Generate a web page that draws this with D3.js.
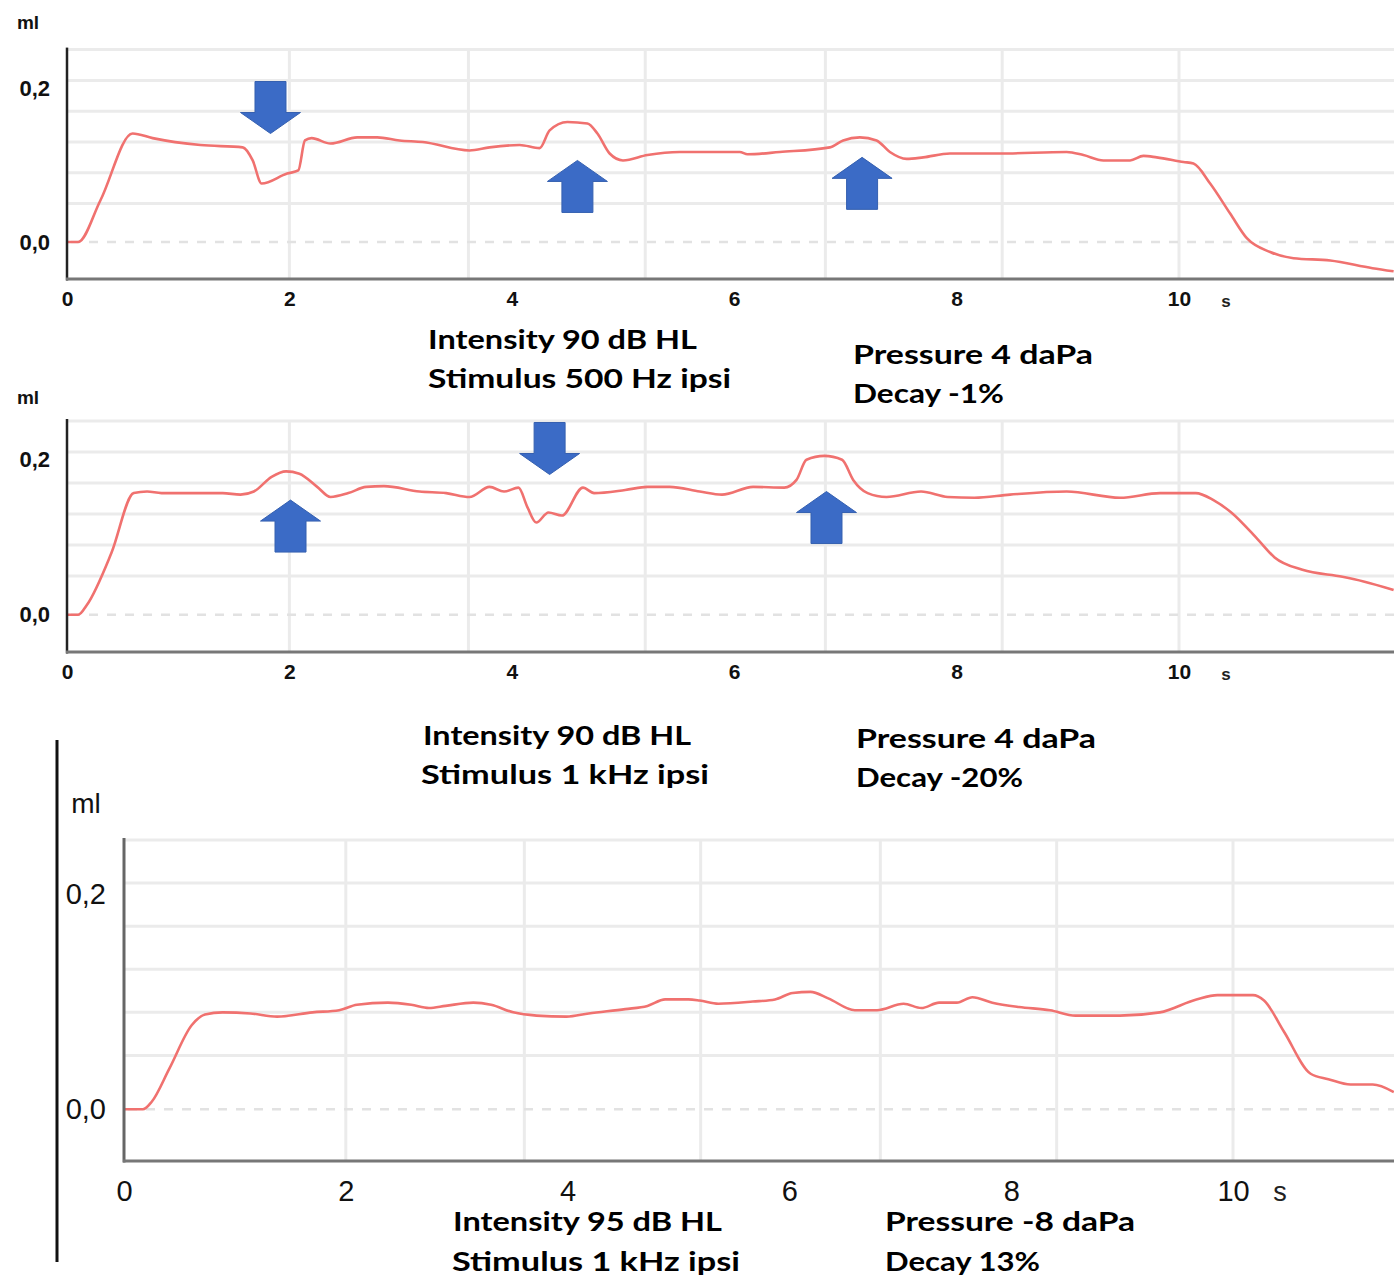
<!DOCTYPE html>
<html>
<head>
<meta charset="utf-8">
<script src="https://cdn.jsdelivr.net/npm/d3@7"></script>
<style>
  body { margin: 0; background: #fff; }
  svg { display: block; }
</style>
</head>
<body>
<script>
// Acoustic reflex decay traces, three recordings (ml vs seconds)
const timeP1 = [0, 0.10, 0.30, 0.59, 0.77, 1.20, 1.58, 1.67, 1.75, 1.98, 2.08, 2.14, 2.20, 2.37, 2.61, 2.79, 2.99, 3.20, 3.62, 3.80,
    4.07, 4.25, 4.34, 4.50, 4.68, 4.77, 4.88, 5.00, 5.22, 5.51, 6.05, 6.12, 6.41, 6.86, 6.98, 7.13, 7.28, 7.40, 7.55, 7.70,
    7.94, 8.39, 8.99, 9.14, 9.32, 9.56, 9.68, 9.80, 10.04, 10.13, 10.28, 10.46, 10.61, 10.82, 11.03, 11.36, 11.74, 11.93];
const volP1 = [0, 0, 0.054, 0.141, 0.135, 0.126, 0.123, 0.106, 0.076, 0.089, 0.093, 0.132, 0.135, 0.128, 0.136, 0.136, 0.132, 0.130, 0.119, 0.123,
    0.126, 0.122, 0.145, 0.156, 0.154, 0.141, 0.115, 0.106, 0.113, 0.117, 0.117, 0.114, 0.117, 0.123, 0.132, 0.136, 0.132, 0.117, 0.108, 0.110,
    0.115, 0.115, 0.117, 0.113, 0.106, 0.106, 0.112, 0.110, 0.104, 0.102, 0.076, 0.037, 0.005, -0.013, -0.021, -0.024, -0.034, -0.038];

const timeP2 = [0, 0.10, 0.18, 0.40, 0.60, 0.72, 0.85, 1.01, 1.40, 1.56, 1.68, 1.84, 1.97, 2.09, 2.25, 2.37, 2.53, 2.69, 2.85, 3.17,
    3.41, 3.62, 3.80, 3.93, 4.06, 4.14, 4.22, 4.33, 4.45, 4.64, 4.74, 5.02, 5.22, 5.42, 5.69, 5.89, 6.17, 6.45, 6.56, 6.65,
    6.81, 6.97, 7.07, 7.20, 7.37, 7.68, 7.92, 8.16, 8.48, 8.99, 9.47, 9.83, 10.15, 10.31, 10.47, 10.71, 10.86, 11.11, 11.47, 11.66, 11.93];
const volP2 = [0, 0, 0.013, 0.080, 0.157, 0.159, 0.157, 0.157, 0.157, 0.155, 0.159, 0.178, 0.185, 0.182, 0.165, 0.152, 0.157, 0.165, 0.166, 0.159,
    0.157, 0.152, 0.165, 0.159, 0.164, 0.139, 0.119, 0.132, 0.128, 0.164, 0.157, 0.161, 0.165, 0.165, 0.159, 0.155, 0.165, 0.164, 0.174, 0.200,
    0.205, 0.200, 0.174, 0.157, 0.152, 0.159, 0.152, 0.151, 0.155, 0.159, 0.151, 0.157, 0.157, 0.148, 0.132, 0.097, 0.074, 0.058, 0.049, 0.043, 0.032];

const timeP3 = [0, 0.17, 0.25, 0.41, 0.61, 0.73, 0.89, 1.14, 1.38, 1.70, 1.94, 2.10, 2.38, 2.59, 2.75, 2.90, 3.15, 3.31, 3.51, 3.72,
    3.99, 4.19, 4.52, 4.72, 4.88, 5.09, 5.19, 5.36, 5.67, 5.87, 6.03, 6.19, 6.35, 6.59, 6.79, 7.03, 7.19, 7.35, 7.51, 7.65,
    7.83, 8.07, 8.35, 8.58, 8.98, 9.34, 9.67, 9.86, 10.18, 10.28, 10.46, 10.70, 10.86, 11.06, 11.26, 11.45];
const volP3 = [0, 0, 0.007, 0.038, 0.078, 0.088, 0.090, 0.089, 0.086, 0.090, 0.092, 0.097, 0.099, 0.097, 0.094, 0.096, 0.099, 0.097, 0.090, 0.087,
    0.086, 0.089, 0.093, 0.096, 0.102, 0.102, 0.101, 0.098, 0.100, 0.102, 0.108, 0.109, 0.103, 0.092, 0.092, 0.098, 0.094, 0.099, 0.099, 0.104,
    0.099, 0.095, 0.092, 0.087, 0.087, 0.090, 0.102, 0.106, 0.106, 0.101, 0.072, 0.033, 0.028, 0.023, 0.023, 0.016];

// Stimulus markers (arrow tip position)
const arrowTimeP1 = [1.83, 4.59, 7.15];
const arrowVolP1 = [0.141, 0.106, 0.110];
const arrowDirP1 = ["down", "up", "up"];
const arrowTimeP2 = [2.01, 4.34, 6.83];
const arrowVolP2 = [0.148, 0.181, 0.159];
const arrowDirP2 = ["up", "down", "up"];

// Axis ticks and grid
const xTickValues = [0, 2, 4, 6, 8, 10];
const yTickValues = [0, 0.2];
const gridTimes = [2.0, 3.61, 5.2, 6.82, 8.41, 10.0];
const gridVols = [0.05, 0.09, 0.13, 0.17, 0.21, 0.25];
const yDomain = [-0.048, 0.25];

// Caption texts
const captionsP1 = ["Intensity 90 dB HL", "Stimulus 500 Hz ipsi", "Pressure 4 daPa", "Decay -1%"];
const captionsP2 = ["Intensity 90 dB HL", "Stimulus 1 kHz ipsi", "Pressure 4 daPa", "Decay -20%"];
const captionsP3 = ["Intensity 95 dB HL", "Stimulus 1 kHz ipsi", "Pressure -8 daPa", "Decay 13%"];

const width = 1394, height = 1277;
const lineColor = "#f0716f";
const arrowColor = "#3b6bc6";

const svg = d3.select("body").append("svg").attr("width", width).attr("height", height);

// layout of each panel (pixels)
const panels = [
    {
        time: timeP1, vol: volP1, arrows: { t: arrowTimeP1, v: arrowVolP1, d: arrowDirP1 },
        left: 67, tenX: 1179, top: 49.6, bottom: 279, big: false,
        ml: [28, 22], captions: captionsP1,
        capPos: [[428, 349, 269], [428, 388, 303], [853, 364, 240], [853, 403, 151]]
    },
    {
        time: timeP2, vol: volP2, arrows: { t: arrowTimeP2, v: arrowVolP2, d: arrowDirP2 },
        left: 67, tenX: 1179, top: 421, bottom: 652, big: false,
        ml: [28, 397], captions: captionsP2,
        capPos: [[423, 745, 268], [421, 784, 288], [856, 748, 240], [856, 787, 167]]
    },
    {
        time: timeP3, vol: volP3, arrows: null,
        left: 124, tenX: 1233, top: 840, bottom: 1161, big: true,
        ml: [86, 803], captions: captionsP3,
        capPos: [[453, 1231, 269], [452, 1271, 288], [885, 1231, 250], [885, 1271, 155]]
    }
];

function arrowPath(x, y, dir) {
    const s = dir === "down" ? -1 : 1;   // body extends above tip for down arrows
    const len = 52, head = 21, hw = 30, sw = 15.5;
    const p = d3.path();
    p.moveTo(x, y);
    p.lineTo(x + hw, y + s * head);
    p.lineTo(x + sw, y + s * head);
    p.lineTo(x + sw, y + s * len);
    p.lineTo(x - sw, y + s * len);
    p.lineTo(x - sw, y + s * head);
    p.lineTo(x - hw, y + s * head);
    p.closePath();
    return p.toString();
}

panels.forEach(cfg => {
    const x = d3.scaleLinear().domain([0, 10]).range([cfg.left, cfg.tenX]);
    const y = d3.scaleLinear().domain(yDomain).range([cfg.bottom, cfg.top]);
    const g = svg.append("g");

    // horizontal grid
    g.append("g")
        .selectAll("line")
        .data(gridVols)
        .join("line")
        .attr("x1", cfg.left).attr("x2", width)
        .attr("y1", d => y(d)).attr("y2", d => y(d))
        .attr("stroke", "#ebebeb").attr("stroke-width", 3);

    // vertical grid
    g.append("g")
        .selectAll("line")
        .data(gridTimes)
        .join("line")
        .attr("x1", d => x(d)).attr("x2", d => x(d))
        .attr("y1", y(yDomain[1])).attr("y2", cfg.bottom)
        .attr("stroke", "#ebebeb").attr("stroke-width", 3);

    // dashed zero line
    g.append("line")
        .attr("x1", cfg.left + 4).attr("x2", width)
        .attr("y1", y(0)).attr("y2", y(0))
        .attr("stroke", "#e2e2e2").attr("stroke-width", 2.5)
        .attr("stroke-dasharray", "9,9");

    // trace
    const pts = cfg.time.map((t, i) => [t, cfg.vol[i]]);
    g.append("path")
        .datum(pts)
        .attr("fill", "none")
        .attr("stroke", lineColor)
        .attr("stroke-width", 2.6)
        .attr("stroke-linejoin", "round")
        .attr("d", d3.line().x(d => x(d[0])).y(d => y(d[1])).curve(d3.curveMonotoneX));

    // axes lines
    g.append("line")
        .attr("x1", cfg.left).attr("x2", cfg.left)
        .attr("y1", y(yDomain[1]) - 2).attr("y2", cfg.bottom + 1.5)
        .attr("stroke", cfg.big ? "#666" : "#222").attr("stroke-width", cfg.big ? 3 : 2.5);
    g.append("line")
        .attr("x1", cfg.left - 1).attr("x2", width)
        .attr("y1", cfg.bottom).attr("y2", cfg.bottom)
        .attr("stroke", "#777").attr("stroke-width", 3);

    const fontFamily = cfg.big ? "'Liberation Sans Narrow', 'Liberation Sans', Arial, sans-serif" : "'Liberation Sans', Arial, sans-serif";
    const fontSize = cfg.big ? 29 : 21;
    const fontWeight = cfg.big ? "normal" : "bold";

    // x tick labels
    const xAxis = g.append("g")
        .attr("transform", `translate(0, ${cfg.bottom})`)
        .call(d3.axisBottom(x).tickValues(xTickValues).tickSize(0).tickPadding(cfg.big ? 19 : 12).tickFormat(d3.format("d")));
    xAxis.select(".domain").remove();
    xAxis.selectAll("text")
        .attr("fill", "#111")
        .style("font-family", fontFamily)
        .style("font-size", fontSize + "px")
        .style("font-weight", fontWeight);

    // unit "s"
    g.append("text")
        .attr("x", x(10) + (cfg.big ? 47 : 47))
        .attr("y", cfg.bottom + (cfg.big ? 40 : 28))
        .attr("text-anchor", "middle")
        .attr("fill", "#222")
        .style("font-family", fontFamily)
        .style("font-size", (cfg.big ? 27 : 17) + "px")
        .style("font-weight", fontWeight)
        .text("s");

    // y tick labels
    const yAxis = g.append("g")
        .attr("transform", `translate(${cfg.left}, 0)`)
        .call(d3.axisLeft(y).tickValues(yTickValues).tickSize(0).tickPadding(cfg.big ? 18 : 17)
            .tickFormat(d => d3.format(".1f")(d).replace(".", ",")));
    yAxis.select(".domain").remove();
    yAxis.selectAll("text")
        .attr("fill", "#111")
        .style("font-family", fontFamily)
        .style("font-size", (cfg.big ? 29 : 22) + "px")
        .style("font-weight", fontWeight);

    // "ml"
    g.append("text")
        .attr("x", cfg.ml[0]).attr("y", cfg.ml[1])
        .attr("dy", "0.35em")
        .attr("text-anchor", "middle")
        .attr("fill", "#111")
        .style("font-family", fontFamily)
        .style("font-size", (cfg.big ? 28 : 19) + "px")
        .style("font-weight", fontWeight)
        .text("ml");

    // arrows
    if (cfg.arrows) {
        g.append("g")
            .selectAll("path")
            .data(cfg.arrows.t.map((t, i) => ({ t, v: cfg.arrows.v[i], d: cfg.arrows.d[i] })))
            .join("path")
            .attr("d", d => arrowPath(x(d.t), y(d.v), d.d))
            .attr("fill", arrowColor)
            .attr("stroke", "#3560b0")
            .attr("stroke-width", 1);
    }

    // captions
    g.append("g")
        .selectAll("text")
        .data(cfg.captions)
        .join("text")
        .attr("x", (d, i) => cfg.capPos[i][0])
        .attr("y", (d, i) => cfg.capPos[i][1])
        .attr("textLength", (d, i) => cfg.capPos[i][2])
        .attr("lengthAdjust", "spacingAndGlyphs")
        .attr("fill", "#000")
        .style("font-family", "Lato, 'Open Sans', sans-serif")
        .style("font-size", "26px")
        .style("font-weight", "bold")
        .text(d => d);
});

// long left rule beside the third panel
svg.append("line")
    .attr("x1", 57).attr("x2", 57)
    .attr("y1", 740).attr("y2", 1262)
    .attr("stroke", "#111").attr("stroke-width", 3);
</script>
</body>
</html>
